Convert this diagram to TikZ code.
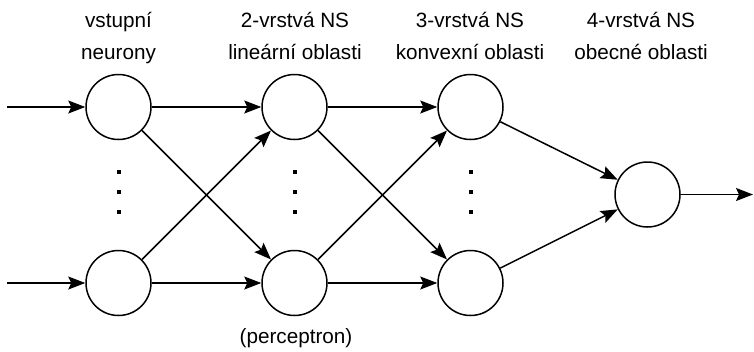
\documentclass[tikz,border=0pt]{standalone}
\usepackage{fontspec}
\setmainfont{Liberation Sans}
\usetikzlibrary{arrows.meta}
\begin{document}
\begin{tikzpicture}[x=1pt,y=-1pt,
  neuron/.style={circle,draw,line width=1.5pt,minimum size=65pt,inner sep=0pt},
  conn/.style={line width=1.5pt,-{Stealth[length=17pt,width=13pt,inset=3pt]}},
  dotmark/.style={fill,inner sep=0pt,minimum size=4pt},
  lbl/.style={anchor=base,font=\fontsize{20.7}{24}\selectfont,inner sep=0pt}]
\useasboundingbox (0,0) rectangle (754,351);
% neurons
\node[neuron] (a1) at (118.5,107) {};
\node[neuron] (a2) at (118.5,283) {};
\node[neuron] (b1) at (294.5,107) {};
\node[neuron] (b2) at (294.5,283) {};
\node[neuron] (c1) at (470.5,107) {};
\node[neuron] (c2) at (470.5,283) {};
\node[neuron] (d)  at (647.5,194.5) {};
\coordinate (in1) at (7,107);
\coordinate (in2) at (7,283);
\coordinate (out) at (753,194.5);
% dots
\foreach \x/\n in {118.5/a,294.5/b,470.5/c}{
  \node[dotmark] (\n dot1) at (\x,171.5) {};
  \node[dotmark] (\n dot2) at (\x,191.5) {};
  \node[dotmark] (\n dot3) at (\x,211.5) {};
}
% connectors
\draw[conn] (in1) -- (a1);
\draw[conn] (in2) -- (a2);
\draw[conn] (a1) -- (b1);
\draw[conn] (a1) -- (b2);
\draw[conn] (a2) -- (b1);
\draw[conn] (a2) -- (b2);
\draw[conn] (b1) -- (c1);
\draw[conn] (b1) -- (c2);
\draw[conn] (b2) -- (c1);
\draw[conn] (b2) -- (c2);
\draw[conn] (c1) -- (d);
\draw[conn] (c2) -- (d);
\draw[conn] (d) -- (out);
% labels
\node[lbl] (t1a) at (118.5,27) {vstupní};
\node[lbl] (t1b) at (118.5,59.5) {neurony};
\node[lbl] (t2a) at (295,27) {2-vrstvá NS};
\node[lbl] (t2b) at (295,59.5) {lineární oblasti};
\node[lbl] (t3a) at (470,27) {3-vrstvá NS};
\node[lbl] (t3b) at (470,59.5) {konvexní oblasti};
\node[lbl] (t4a) at (641,27) {4-vrstvá NS};
\node[lbl] (t4b) at (641,59.5) {obecné oblasti};
\node[lbl] (tp) at (296,343) {(perceptron)};
\end{tikzpicture}
\end{document}
